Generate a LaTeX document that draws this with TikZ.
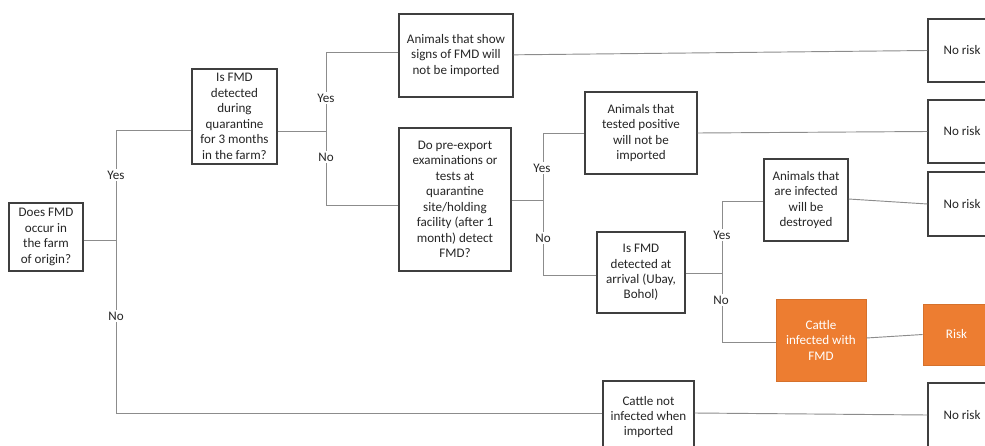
\documentclass[tikz,border=0pt]{standalone}
\usepackage{fontspec}
\setmainfont{Carlito}
\definecolor{txt}{HTML}{262626}
\definecolor{edge}{HTML}{3F3F3F}
\definecolor{wire}{HTML}{8C8C8C}
\definecolor{orng}{HTML}{ED7D31}
\begin{document}
\begin{tikzpicture}[x=0.75pt,y=-0.75pt,
  font=\fontsize{9.8}{11.6}\selectfont,
  box/.style={draw=edge,line width=0.8pt,fill=white,text=txt,align=center,inner sep=1pt},
  obox/.style={draw=orng!90!black,line width=0.6pt,fill=orng,text=white,align=center,inner sep=1pt},
  wireline/.style={draw=wire,line width=0.7pt},
  lab/.style={fill=white,text=txt,inner sep=1.5pt}]
\useasboundingbox (0,0) rectangle (985,446);

% boxes
\node[box,minimum width=55.5pt,minimum height=51pt] (A) at (46,237) {Does FMD\\occur in\\the farm\\of origin?};
\node[box,minimum width=63.75pt,minimum height=71.25pt] (B) at (234.5,116.5) {Is FMD\\detected\\during\\quarantine\\for 3 months\\in the farm?};
\node[box,minimum width=85.5pt,minimum height=62.25pt] (C) at (456,55.5) {Animals that show\\signs of FMD will\\not be imported};
\node[box,minimum width=84pt,minimum height=107.25pt] (D) at (455,199.5) {Do pre-export\\examinations or\\tests at\\quarantine\\site/holding\\facility (after 1\\month) detect\\FMD?};
\node[box,minimum width=84pt,minimum height=61.5pt] (E) at (641,133) {Animals that\\tested positive\\will not be\\imported};
\node[box,minimum width=66pt,minimum height=60.75pt] (F) at (641,272.5) {Is FMD\\detected at\\arrival (Ubay,\\Bohol)};
\node[box,minimum width=63pt,minimum height=61.5pt] (G) at (806,200) {Animals that\\are infected\\will be\\destroyed};
\node[obox,minimum width=67.5pt,minimum height=61.5pt] (H) at (821,340) {Cattle\\infected with\\FMD};
\node[obox,minimum width=50.25pt,minimum height=45.75pt] (I) at (956.5,334.5) {Risk};
\node[box,minimum width=68.25pt,minimum height=54pt] (J) at (648.5,417) {Cattle not\\infected when\\imported};
\node[box,minimum width=51pt,minimum height=47.25pt] (N1) at (962,50.5) {No risk};
\node[box,minimum width=51pt,minimum height=47.25pt] (N2) at (962,131.5) {No risk};
\node[box,minimum width=51pt,minimum height=48pt] (N3) at (962,204) {No risk};
\node[box,minimum width=51pt,minimum height=48pt] (N4) at (962,415) {No risk};

% junction coordinates
\coordinate (j1m) at (116,240);
\coordinate (j1t) at (116,130);
\coordinate (j1b) at (116,413);
\coordinate (j2m) at (326,131);
\coordinate (j2t) at (326,52);
\coordinate (j2b) at (326,205);
\coordinate (j3m) at (543,200);
\coordinate (j3t) at (543,133);
\coordinate (j3b) at (543,275);
\coordinate (j4m) at (722,273);
\coordinate (j4t) at (722,201);
\coordinate (j4b) at (722,342);

% level 1
\draw[wireline] (A.east |- j1m) -- (j1m);
\draw[wireline] (j1t) -- (j1b);
\draw[wireline] (j1t) -- (j1t -| B.west);
\draw[wireline] (j1b) -- (j1b -| J.west);
% level 2
\draw[wireline] (B.east |- j2m) -- (j2m);
\draw[wireline] (j2t) -- (j2b);
\draw[wireline] (j2t) -- (j2t -| C.west);
\draw[wireline] (j2b) -- (j2b -| D.west);
% level 3
\draw[wireline] (D.east |- j3m) -- (j3m);
\draw[wireline] (j3t) -- (j3b);
\draw[wireline] (j3t) -- (j3t -| E.west);
\draw[wireline] (j3b) -- (j3b -| F.west);
% level 4
\draw[wireline] (F.east |- j4m) -- (j4m);
\draw[wireline] (j4t) -- (j4b);
\draw[wireline] (j4t) -- (j4t -| G.west);
\draw[wireline] (j4b) -- (j4b -| H.west);
% outcomes
\draw[wireline] ([yshift=0.5pt]C.east) -- (N1.west);
\draw[wireline] (E.east) -- (N2.west);
\draw[wireline] ([yshift=0.75pt]G.east) -- (N3.west);
\draw[wireline] ([yshift=1.5pt]H.east) -- (I.west);
\draw[wireline] ([yshift=3pt]J.east) -- (N4.west);

% labels
\node[lab] (y1) at (116,175) {Yes};
\node[lab] (n1) at (116,316) {No};
\node[lab] (y2) at (326,98) {Yes};
\node[lab] (n2) at (326,157) {No};
\node[lab] (y3) at (542,168) {Yes};
\node[lab] (n3) at (543,238) {No};
\node[lab] (y4) at (722,235) {Yes};
\node[lab] (n4) at (721,300) {No};
\end{tikzpicture}
\end{document}
